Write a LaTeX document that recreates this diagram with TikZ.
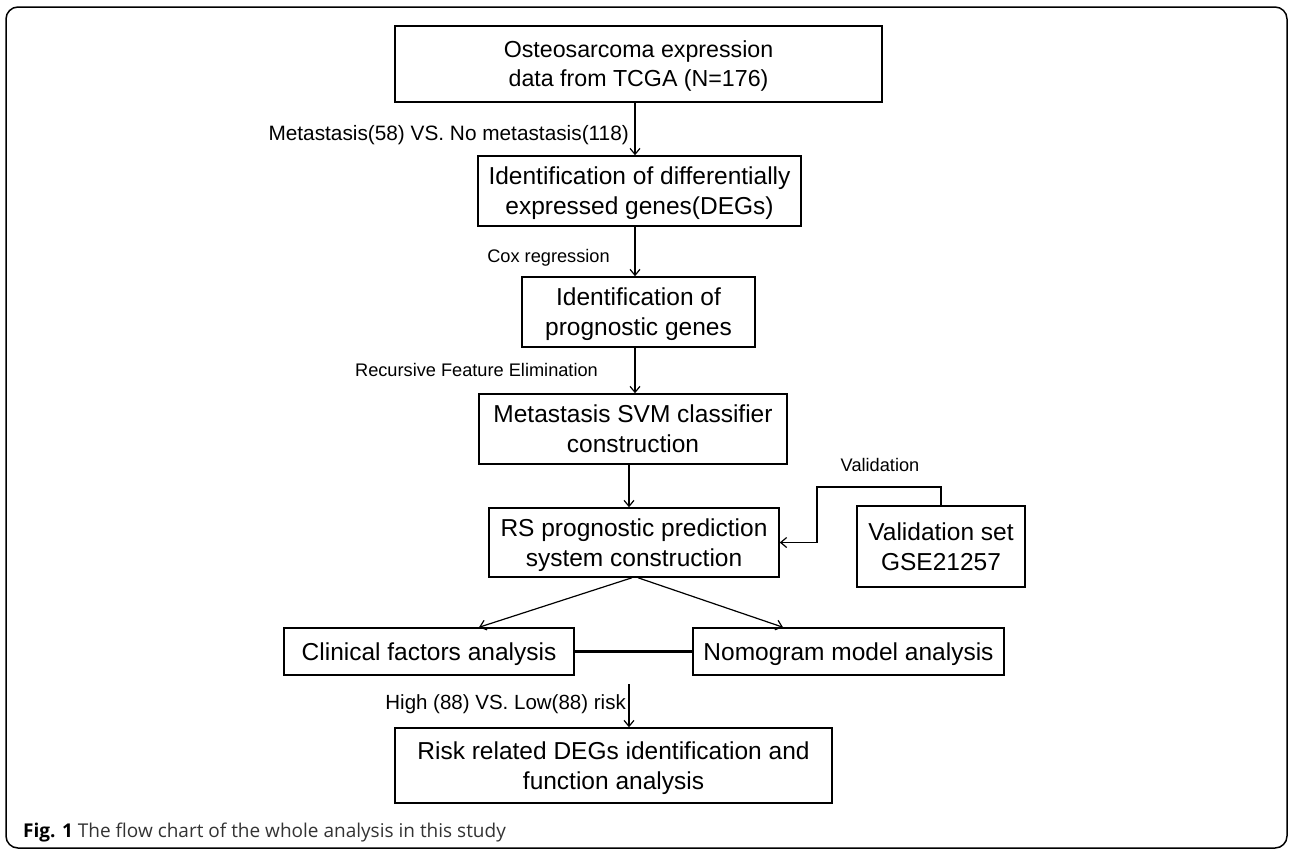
\documentclass[tikz,border=0pt]{standalone}
\usepackage{fontspec}
\setmainfont{Liberation Sans}
\newfontfamily\capfont{Open Sans}
\usetikzlibrary{arrows.meta}

\begin{document}
\begin{tikzpicture}[x=1pt,y=-1pt,
  stage/.style={draw,line width=1.5pt,align=center,inner sep=0pt,text depth=-3pt,font=\fontsize{24.5}{30}\selectfont},
  lbl/.style={inner sep=0pt,font=\fontsize{18.2}{20}\selectfont},
  arr/.style={-{Straight Barb[length=6pt,width=10pt]},line width=1.2pt}]
\useasboundingbox (0,0) rectangle (1292,852);
\draw[line width=1.5pt,rounded corners=12pt] (6,7) rectangle (1287,848);

\node[stage,minimum width=487pt,minimum height=76pt,font=\fontsize{23.2}{29}\selectfont](0) at (638.5,64){Osteosarcoma expression\\data from TCGA (N=176)};
\node[stage,minimum width=323pt,minimum height=70pt](1) at (639.5,191){Identification of differentially\\expressed genes(DEGs)};
\node[stage,minimum width=233pt,minimum height=70pt](2) at (638.5,312){Identification of\\prognostic genes};
\node[stage,minimum width=308pt,minimum height=70pt](3) at (633,429){Metastasis SVM classifier\\construction};
\node[stage,minimum width=290pt,minimum height=69pt](4) at (634,542.5){RS prognostic prediction\\system construction};
\node[stage,minimum width=168pt,minimum height=81pt](5) at (941,546.5){Validation set\\GSE21257};
\node[stage,minimum width=290pt,minimum height=47pt](6) at (429,651.5){Clinical factors analysis};
\node[stage,minimum width=311pt,minimum height=47pt](7) at (848.5,651.5){Nomogram model analysis};
\node[stage,minimum width=437pt,minimum height=75pt](8) at (613.5,765.5){Risk related DEGs identification and\\function analysis};

% labels
\node[lbl,anchor=east,font=\fontsize{20.8}{22}\selectfont](l0) at (629,135){Metastasis(58) VS. No metastasis(118)};
\node[lbl](l1) at (548.5,258){Cox regression};
\node[lbl](l2) at (476.5,370){Recursive Feature Elimination};
\node[lbl](l3) at (880,465){Validation};
\node[lbl,anchor=east,font=\fontsize{20.5}{22}\selectfont](l4) at (626,704){High (88) VS. Low(88) risk};

\coordinate (vb) at (817,487);
\coordinate (rk) at (629,684);

\draw[arr] (0.south -| 635,0) -- (1.north -| 635,0);
\draw[arr] (1.south -| 635,0) -- (2.north -| 635,0);
\draw[arr] (2.south -| 635,0) -- (3.north -| 635,0);
\draw[arr] (3.south -| 629,0) -- (4.north -| 629,0);
\draw[arr] (4.south -| 632,0) -- (6.north -| 479,0);
\draw[arr] (4.south -| 638,0) -- (7.north -| 783,0);
\draw[arr] (5.north) |- (vb) |- (4.east);
\draw[line width=2.4pt] (6.east) -- (7.west);
\draw[arr] (rk) -- (8.north -| rk);

\node[anchor=west,inner sep=0pt,text=black!80,font=\capfont\fontsize{19}{21}\selectfont](cap) at (23,832){\textbf{\color{black}Fig. 1} The flow chart of the whole analysis in this study};
\end{tikzpicture}
\end{document}
